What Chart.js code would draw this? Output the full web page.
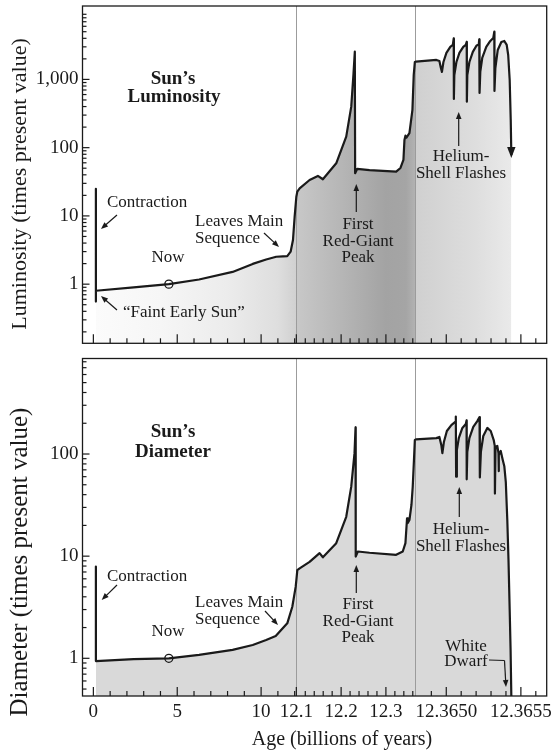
<!DOCTYPE html>
<html>
<head>
<meta charset="utf-8">
<title>Sun's luminosity and diameter</title>
<script src="https://cdn.jsdelivr.net/npm/chart.js@4.4.1/dist/chart.umd.min.js"></script>
<style>
  body { margin: 0; background: #fff; }
  #wrap { position: relative; width: 552px; height: 755px; }
  canvas { position: absolute; left: 0; }
</style>
</head>
<body>
<div id="wrap">
  <canvas id="lum" width="552" height="352" style="top:0"></canvas>
  <canvas id="dia" width="552" height="403" style="top:352px"></canvas>
</div>
<script>
// age in billions of years, values in times the present value
const lumAge = [
  0.15, 0.15, 0.15, 2.4, 4.5, 6.3, 8.3, 9.5, 10.3, 10.9, 11.3, 11.56, 11.76, 11.9, 12.0, 12.1,
  12.1022, 12.1074, 12.1296, 12.1481, 12.1593, 12.1891, 12.2114, 12.2226, 12.2277, 12.2306,
  12.2313, 12.236, 12.2634, 12.3229, 12.3325, 12.3391, 12.3414, 12.3436, 12.3458, 12.3525,
  12.3592, 12.3621, 12.3646,
  12.364797, 12.364934, 12.364954, 12.364964, 12.364971, 12.364981, 12.365001, 12.365027,
  12.365044, 12.365050, 12.365051, 12.365054, 12.365068, 12.365088, 12.365114, 12.365131,
  12.365137, 12.365138, 12.365141, 12.365155, 12.365178, 12.365201, 12.365218, 12.365221,
  12.365223, 12.365228, 12.365241, 12.365268, 12.365295, 12.365315, 12.365322, 12.365323,
  12.365329, 12.365345, 12.365369, 12.365389, 12.365405, 12.365415, 12.365425, 12.365432,
  12.365436
];
const lumValue = [
  25, 0.556, 0.80, 0.90, 1.0, 1.17, 1.51, 1.98, 2.3, 2.52, 2.56, 2.58, 2.99, 4.44, 9.75, 19.1,
  22.7, 25.4, 33.6, 38.5, 34.4, 59, 145, 399, 1230, 2550,
  42.2, 49, 47, 44.5, 50.4, 66, 130, 150, 140, 163,
  357, 1160, 1800,
  1820, 1930, 1860, 1470, 1290, 1800, 2440, 2990,
  3200, 3980, 517, 1160, 1800, 2440, 2990, 3200,
  3540, 472, 1160, 1800, 2530, 3090, 3300, 3850,
  633, 1290, 2060, 2990, 3660, 4050, 5010, 677,
  1470, 2700, 3540, 3660, 3200, 2280, 980, 255,
  78
];
const diaAge = [
  0.15, 0.15, 2.4, 4.5, 6.3, 8.3, 9.5, 10.3, 10.87, 11.56, 11.86, 12.06, 12.1,
  12.1022, 12.1074, 12.1296, 12.1519, 12.1593, 12.1891, 12.2114, 12.2226, 12.2299, 12.2322,
  12.2326, 12.2373, 12.2634, 12.3229, 12.3376, 12.3436, 12.3472, 12.3488, 12.3525, 12.357,
  12.3599, 12.3626, 12.3646,
  12.364797, 12.364934, 12.364954, 12.364967, 12.364974, 12.364984, 12.365004, 12.365034,
  12.365060, 12.365064, 12.365066, 12.365071, 12.365084, 12.365108, 12.365131, 12.365136,
  12.365137, 12.365141, 12.365155, 12.365181, 12.365208, 12.365223, 12.365225, 12.365232,
  12.365248, 12.365275, 12.365298, 12.365318, 12.365325, 12.365326, 12.365330, 12.365342,
  12.365350, 12.365351, 12.365353, 12.365365, 12.365379, 12.365389, 12.365399, 12.365409,
  12.365417, 12.365425, 12.365431, 12.365436, 12.365437
];
const diaValue = [
  7.9, 0.94, 0.98, 1.0, 1.08, 1.21, 1.35, 1.51, 1.65, 2.2, 3.2, 5.0, 5.8,
  7.3, 7.6, 8.8, 10.7, 9.75, 13.4, 24.3, 47.9, 102, 182,
  9.9, 11.1, 10.8, 10.3, 11.1, 13.4, 23.5, 21.1, 22.6, 31.7,
  47.9, 87, 137,
  139, 143, 147, 122, 102, 131, 168, 192,
  206, 233, 60, 109, 143, 180, 197, 213,
  56.5, 105, 143, 184, 210, 230, 59, 105,
  150, 180, 168, 137, 120, 41, 117, 120,
  102, 68, 98, 107, 87, 76, 53, 22.6,
  9.2, 2.97, 1.21, 0.43, 0.38
];
const nowAge = 4.5;
const nowLum = 1.0;
const nowDia = 1.0;

const xMajorTicks = [0, 5, 10, 12.1, 12.2, 12.3, 12.365, 12.3655];
const xTickLabels = ['0', '5', '10', '12.1', '12.2', '12.3', '12.3650', '12.3655'];
const lumTicks = [1, 10, 100, 1000];
const lumTickLabels = ['1', '10', '100', '1,000'];
const diaTicks = [1, 10, 100];
const diaTickLabels = ['1', '10', '100'];

// the age axis is broken in three pieces, each with its own stretch
const ageSegments = [
  { from: -0.648, to: 12.1, weight: 214.2 },
  { from: 12.1, to: 12.36479, weight: 118.8 },
  { from: 12.36479, to: 12.365673, weight: 132 }
];

const SERIF = '"Liberation Serif", "Times New Roman", serif';
const INK = '#1a1a1a';

class BrokenAxis extends Chart.LinearScale {
  determineDataLimits() {
    this.min = ageSegments[0].from;
    this.max = ageSegments[ageSegments.length - 1].to;
  }
  buildTicks() {
    return xMajorTicks.map(v => ({ value: v }));
  }
  ageToDecimal(v) {
    const total = ageSegments.reduce((s, g) => s + g.weight, 0);
    let acc = 0;
    for (let i = 0; i < ageSegments.length; i++) {
      const g = ageSegments[i];
      if (v <= g.to || i === ageSegments.length - 1) {
        return (acc + (v - g.from) / (g.to - g.from) * g.weight) / total;
      }
      acc += g.weight;
    }
  }
  getPixelForValue(v) {
    return this.getPixelForDecimal(this.ageToDecimal(v));
  }
  getValueForPixel(p) {
    const total = ageSegments.reduce((s, g) => s + g.weight, 0);
    let d = this.getDecimalForPixel(p) * total;
    for (let i = 0; i < ageSegments.length; i++) {
      const g = ageSegments[i];
      if (d <= g.weight || i === ageSegments.length - 1) {
        return g.from + d / g.weight * (g.to - g.from);
      }
      d -= g.weight;
    }
  }
}
BrokenAxis.id = 'broken';
BrokenAxis.defaults = {};
Chart.register(BrokenAxis);

function minorAgeTicks() {
  const t = [];
  for (let a = 1; a <= 12; a++) if (a % 5) t.push(a);
  for (let k = 1; k <= 13; k++) t.push(12.1 + k * 0.02);
  for (let k = -1; k <= 6; k++) t.push(12.365 + k * 0.0001);
  return t.filter(v => !xMajorTicks.some(m => Math.abs(m - v) < 1e-7));
}

function logMinors(min, max) {
  const out = [];
  for (let e = Math.floor(Math.log10(min)); e <= Math.ceil(Math.log10(max)); e++) {
    for (let m = 2; m <= 9; m++) {
      const v = m * Math.pow(10, e);
      if (v >= min && v <= max) out.push(v);
    }
  }
  return out;
}

// grey shading under the luminosity curve, darkest on the red-giant branch
const lumShade = [
  [0.15, 251], [4, 246], [8, 236], [11, 222], [12.1, 208],
  [12.1001, 200], [12.2, 182], [12.3, 163], [12.345, 165], [12.3647, 178],
  [12.3648, 208], [12.3652, 222], [12.36544, 234]
];

function lumFill(context) {
  const chart = context.chart;
  const area = chart.chartArea;
  if (!area) return '#dddddd';
  const xs = chart.scales.x;
  const g = chart.ctx.createLinearGradient(area.left, 0, area.right, 0);
  lumShade.forEach(([age, level]) => {
    const f = (xs.getPixelForValue(age) - area.left) / (area.right - area.left);
    g.addColorStop(Math.min(1, Math.max(0, f)), `rgb(${level},${level},${level})`);
  });
  return g;
}

function arrow(ctx, x1, y1, x2, y2) {
  const ang = Math.atan2(y2 - y1, x2 - x1);
  const len = 7, half = 2.8;
  ctx.beginPath();
  ctx.moveTo(x1, y1);
  ctx.lineTo(x2 - Math.cos(ang) * len * 0.8, y2 - Math.sin(ang) * len * 0.8);
  ctx.stroke();
  ctx.beginPath();
  ctx.moveTo(x2, y2);
  ctx.lineTo(x2 - Math.cos(ang) * len - Math.sin(ang) * half, y2 - Math.sin(ang) * len + Math.cos(ang) * half);
  ctx.lineTo(x2 - Math.cos(ang) * len + Math.sin(ang) * half, y2 - Math.sin(ang) * len - Math.cos(ang) * half);
  ctx.closePath();
  ctx.fill();
}

function panelDecor(cfg) {
  return {
    id: 'panelDecor',
    beforeDatasetsDraw(chart) {
      const { ctx, chartArea: a } = chart;
      const xs = chart.scales.x;
      ctx.save();
      ctx.strokeStyle = '#9c9c9c';
      ctx.lineWidth = 1;
      ageSegments.slice(1).forEach(seg => {
        const px = Math.round(xs.getPixelForValue(seg.from)) + 0.5;
        ctx.beginPath();
        ctx.moveTo(px, a.top);
        ctx.lineTo(px, a.bottom);
        ctx.stroke();
      });
      ctx.restore();
    },
    afterDatasetsDraw(chart) {
      const { ctx, chartArea: a } = chart;
      const xs = chart.scales.x;
      const ys = chart.scales.y;
      ctx.save();
      ctx.strokeStyle = INK;
      ctx.fillStyle = INK;

      // inward tick marks along the bottom and left edges
      ctx.lineWidth = 1.2;
      const tick = (x1, y1, x2, y2) => {
        ctx.beginPath(); ctx.moveTo(x1, y1); ctx.lineTo(x2, y2); ctx.stroke();
      };
      xMajorTicks.forEach(v => { const px = xs.getPixelForValue(v); tick(px, a.bottom, px, a.bottom - 9); });
      minorAgeTicks().forEach(v => { const px = xs.getPixelForValue(v); tick(px, a.bottom, px, a.bottom - 5); });
      cfg.yTicks.forEach(v => { const py = ys.getPixelForValue(v); tick(a.left, py, a.left + 7, py); });
      logMinors(ys.min, ys.max).forEach(v => { const py = ys.getPixelForValue(v); tick(a.left, py, a.left + 4, py); });

      // panel frame
      ctx.lineWidth = 1.3;
      ctx.strokeRect(a.left, a.top, a.right - a.left, a.bottom - a.top);

      // labels
      ctx.textBaseline = 'middle';
      cfg.notes.forEach(n => {
        ctx.font = (n.bold ? 'bold 19px ' : '17px ') + SERIF;
        ctx.textAlign = n.align || 'center';
        ctx.fillText(n.t, n.x, n.y);
      });

      // pointer arrows
      ctx.lineWidth = 1.2;
      cfg.arrows.forEach(p => arrow(ctx, p[0], p[1], p[2], p[3]));
      if (cfg.bracket) {
        const b = cfg.bracket;
        ctx.beginPath();
        ctx.moveTo(b[0][0], b[0][1]);
        ctx.lineTo(b[1][0], b[1][1]);
        ctx.stroke();
        arrow(ctx, b[1][0], b[1][1], b[2][0], b[2][1]);
      }

      // arrowhead where the luminosity track leaves the plot
      if (cfg.endArrow) {
        const pts = chart.getDatasetMeta(0).data;
        const last = pts[pts.length - 1];
        ctx.beginPath();
        ctx.moveTo(last.x, last.y + 3);
        ctx.lineTo(last.x - 4.2, last.y - 8);
        ctx.lineTo(last.x + 4.2, last.y - 8);
        ctx.closePath();
        ctx.fill();
      }

      // axis titles
      ctx.save();
      ctx.translate(cfg.yTitle.x, cfg.yTitle.y);
      ctx.rotate(-Math.PI / 2);
      ctx.textAlign = 'center';
      ctx.font = cfg.yTitle.size + 'px ' + SERIF;
      ctx.fillText(cfg.yTitle.t, 0, 0);
      ctx.restore();
      if (cfg.xTitle) {
        ctx.textAlign = 'center';
        ctx.font = '20px ' + SERIF;
        ctx.fillText(cfg.xTitle.t, cfg.xTitle.x, cfg.xTitle.y);
      }
      ctx.restore();
    }
  };
}

function buildPanel(canvasId, ages, values, nowValue, fill, yMin, yMax, yTicks, yLabels, showAgeLabels, pad, decor) {
  const points = ages.map((a, i) => ({ x: a, y: values[i] }));
  return new Chart(document.getElementById(canvasId), {
    type: 'line',
    data: {
      datasets: [
        {
          data: points,
          borderColor: INK,
          borderWidth: 2.2,
          borderJoinStyle: 'round',
          pointRadius: 0,
          tension: 0,
          fill: 'start',
          backgroundColor: fill,
          order: 1
        },
        {
          type: 'scatter',
          data: [{ x: nowAge, y: nowValue }],
          pointRadius: 4,
          pointBorderWidth: 1.3,
          pointBorderColor: INK,
          pointBackgroundColor: 'rgba(0,0,0,0)',
          order: 0
        }
      ]
    },
    options: {
      responsive: false,
      devicePixelRatio: 1,
      animation: false,
      layout: { padding: pad },
      plugins: {
        legend: { display: false },
        tooltip: { enabled: false },
        filler: { drawTime: 'beforeDatasetsDraw' }
      },
      scales: {
        x: {
          type: 'broken',
          display: showAgeLabels,
          grid: { display: false, drawTicks: false },
          border: { display: false },
          ticks: {
            autoSkip: false,
            maxRotation: 0,
            padding: 5,
            color: INK,
            font: { family: SERIF, size: 19 },
            callback: (v, i) => xTickLabels[i]
          },
          afterFit: s => { s.height = showAgeLabels ? 59 : 0; s.paddingLeft = 0; s.paddingRight = 0; }
        },
        y: {
          type: 'logarithmic',
          min: yMin,
          max: yMax,
          grid: { display: false, drawTicks: false },
          border: { display: false },
          ticks: {
            autoSkip: false,
            padding: 4,
            color: INK,
            font: { family: SERIF, size: 19 },
            callback: v => { const i = yTicks.indexOf(v); return i < 0 ? '' : yLabels[i]; }
          },
          afterBuildTicks: s => { s.ticks = yTicks.map(v => ({ value: v })); },
          afterFit: s => { s.width = 82.5; s.paddingTop = 0; s.paddingBottom = 0; }
        }
      }
    },
    plugins: [panelDecor(decor)]
  });
}

buildPanel('lum', lumAge, lumValue, nowLum, lumFill, 0.136, 11900, lumTicks, lumTickLabels, false,
  { top: 6, right: 4.5, bottom: 8.7, left: 0 },
  {
    yTicks: lumTicks,
    yTitle: { t: 'Luminosity (times present value)', x: 20, y: 184, size: 22 },
    endArrow: true,
    notes: [
      { t: 'Sun\u2019s', x: 173, y: 79, bold: true },
      { t: 'Luminosity', x: 174, y: 97, bold: true },
      { t: 'Contraction', x: 107, y: 203, align: 'left' },
      { t: '\u201cFaint Early Sun\u201d', x: 123, y: 313, align: 'left' },
      { t: 'Now', x: 168, y: 258 },
      { t: 'Leaves Main', x: 195, y: 222, align: 'left' },
      { t: 'Sequence', x: 195, y: 239, align: 'left' },
      { t: 'First', x: 358, y: 225 },
      { t: 'Red-Giant', x: 358, y: 242 },
      { t: 'Peak', x: 358, y: 258 },
      { t: 'Helium-', x: 461, y: 157 },
      { t: 'Shell Flashes', x: 461, y: 173.5 }
    ],
    arrows: [[117, 215, 101, 229], [117, 310, 101, 296], [264, 233, 279, 247],
             [356.3, 212, 356.3, 184], [458.7, 146, 458.7, 112]]
  });

buildPanel('dia', diaAge, diaValue, nowDia, '#d9d9d9', 0.4275, 861, diaTicks, diaTickLabels, true,
  { top: 6.5, right: 4.5, bottom: 0, left: 0 },
  {
    yTicks: diaTicks,
    yTitle: { t: 'Diameter (times present value)', x: 20, y: 210, size: 25 },
    xTitle: { t: 'Age (billions of years)', x: 342, y: 388 },
    notes: [
      { t: 'Sun\u2019s', x: 173, y: 80, bold: true },
      { t: 'Diameter', x: 173, y: 100, bold: true },
      { t: 'Contraction', x: 107, y: 225, align: 'left' },
      { t: 'Now', x: 168, y: 280 },
      { t: 'Leaves Main', x: 195, y: 251, align: 'left' },
      { t: 'Sequence', x: 195, y: 268, align: 'left' },
      { t: 'First', x: 358, y: 253 },
      { t: 'Red-Giant', x: 358, y: 270 },
      { t: 'Peak', x: 358, y: 286 },
      { t: 'Helium-', x: 461, y: 178 },
      { t: 'Shell Flashes', x: 461, y: 195 },
      { t: 'White', x: 466, y: 295 },
      { t: 'Dwarf', x: 466, y: 310 }
    ],
    arrows: [[117, 233, 101.7, 248], [265, 259, 278, 273],
             [356.3, 241, 356.3, 213], [459.3, 165, 459.3, 135]],
    bracket: [[489, 308], [504.5, 308.5], [506, 335]]
  });
</script>
</body>
</html>
